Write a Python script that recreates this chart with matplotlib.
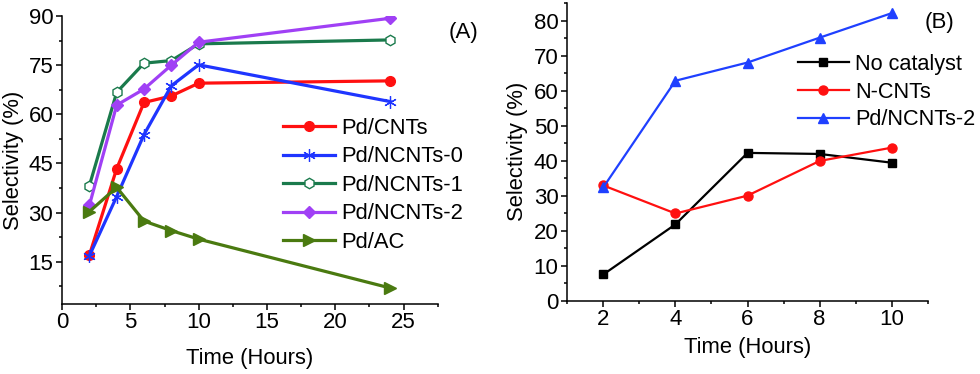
import matplotlib
matplotlib.use("Agg")
import matplotlib.pyplot as plt
from matplotlib.ticker import MultipleLocator

plt.rcParams['font.family'] = ['Liberation Sans', 'DejaVu Sans']

# panel A data
time_a = [2, 4, 6, 8, 10, 24]
pd_cnts = [17.0, 43.4, 63.6, 65.6, 69.5, 70.2]
pd_ncnts0 = [16.8, 34.9, 53.8, 68.7, 75.1, 63.9]
pd_ncnts1 = [38.2, 66.7, 75.6, 76.4, 81.5, 82.7]
pd_ncnts2 = [32.2, 62.8, 67.7, 75.0, 82.0, 89.3]
pd_ac = [30.3, 37.7, 27.4, 24.5, 21.9, 7.0]

# panel B data
time_b = [2, 4, 6, 8, 10]
no_cat = [7.5, 21.8, 42.2, 41.9, 39.4]
n_cnts = [32.9, 24.9, 30.0, 39.9, 43.7]
pd_ncnts2_b = [32.4, 62.8, 68.0, 75.1, 82.1]

fig = plt.figure(figsize=(9.8, 3.74), dpi=100)
axA = fig.add_axes([0.0633, 0.1872, 0.3834, 0.770])
axB = fig.add_axes([0.5789, 0.1960, 0.3678, 0.7960])

lw = 2.3
axA.plot(time_a, pd_cnts, color='#ff1010', lw=lw, marker='o', ms=7, label='Pd/CNTs')
axA.plot(time_a, pd_ncnts0, color='#1f35ff', lw=lw, marker=(6, 2, 0), ms=9,
         mew=0.9, label='Pd/NCNTs-0')
axA.plot(time_a, pd_ncnts1, color='#1a7a4c', lw=lw, marker='h', ms=7.5,
         mfc='white', mew=1.0, label='Pd/NCNTs-1')
axA.plot(time_a, pd_ncnts2, color='#a040f5', lw=lw, marker='D', ms=6.5, label='Pd/NCNTs-2')
axA.plot(time_a, pd_ac, color='#4a7a10', lw=lw, marker='>', ms=8.5, label='Pd/AC')

axA.set_xlim(0, 27.5)
axA.set_ylim(2.1, 90)
axA.xaxis.set_major_locator(MultipleLocator(5))
axA.xaxis.set_minor_locator(MultipleLocator(2.5))
axA.yaxis.set_major_locator(MultipleLocator(15))
axA.yaxis.set_minor_locator(MultipleLocator(7.5))
axA.set_xlabel('Time (Hours)', fontsize=15.8, labelpad=11)
axA.set_ylabel('Selectivity (%)', fontsize=15.8, labelpad=3)
axA.text(1.03, 0.941, '(A)', transform=axA.transAxes, fontsize=16,
         ha='left', va='center')
axA.legend(loc='upper left', bbox_to_anchor=(0.588, 0.646), frameon=False,
           fontsize=15.8, handlelength=2.35, handletextpad=0.3,
           labelspacing=0.34, borderaxespad=0, borderpad=0)

lwb = 1.6
axB.plot(time_b, no_cat, color='black', lw=lwb, marker='s', ms=6, label='No catalyst')
axB.plot(time_b, n_cnts, color='#ff1010', lw=lwb, marker='o', ms=6.5, label='N-CNTs')
axB.plot(time_b, pd_ncnts2_b, color='#1f40ff', lw=lwb, marker='^', ms=6.5, label='Pd/NCNTs-2')

axB.set_xlim(1, 11)
axB.set_ylim(0, 85)
axB.xaxis.set_major_locator(MultipleLocator(2))
axB.xaxis.set_minor_locator(MultipleLocator(1))
axB.yaxis.set_major_locator(MultipleLocator(10))
axB.yaxis.set_minor_locator(MultipleLocator(5))
axB.set_xlabel('Time (Hours)', fontsize=15.8, labelpad=5)
axB.set_ylabel('Selectivity (%)', fontsize=15.8, labelpad=4)
axB.text(0.99, 0.933, '(B)', transform=axB.transAxes, fontsize=16,
         ha='left', va='center')
axB.legend(loc='upper left', bbox_to_anchor=(0.640, 0.829), frameon=False,
           fontsize=15.6, handlelength=2.35, handletextpad=0.3,
           labelspacing=0.31, borderaxespad=0, borderpad=0)

for ax in (axA, axB):
    for side in ('top', 'right'):
        ax.spines[side].set_visible(False)
    for side in ('left', 'bottom'):
        ax.spines[side].set_linewidth(1.1)
    ax.tick_params(which='major', direction='out', length=4.3, width=1.1,
                   labelsize=16, pad=1.5)
    ax.tick_params(which='minor', direction='out', length=2.5, width=1.1)
    ax.tick_params(axis='y', which='major', pad=2)

fig.savefig('out.png', dpi=100)
